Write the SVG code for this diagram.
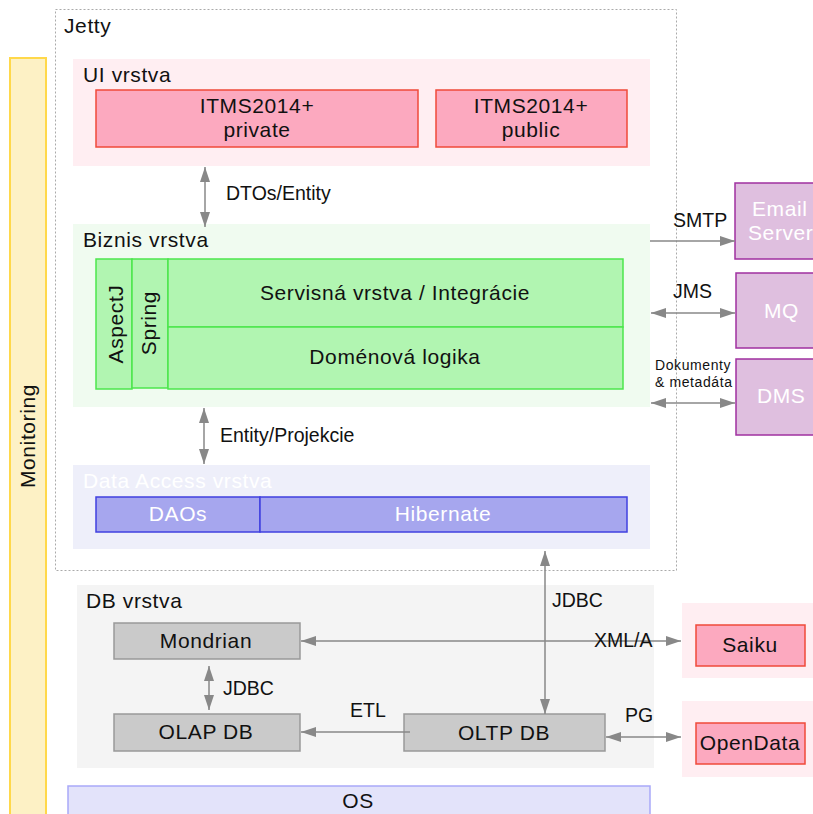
<svg xmlns="http://www.w3.org/2000/svg" width="813" height="814" viewBox="0 0 813 814">
<style>
text{font-family:"Liberation Sans",Arial,sans-serif;fill:#111}
.n{font-size:21px;letter-spacing:0.6px}
.l{font-size:19.5px}
.s{font-size:14px;letter-spacing:0.6px}
.m{text-anchor:middle}
.w{fill:#fff}
.pink{fill:#fca9bf;stroke:#f04a3a;stroke-width:1.5}
.green{fill:#b1f5b1;stroke:#4ce64c;stroke-width:1.5}
.blue{fill:#a6a6ee;stroke:#4040e0;stroke-width:1.5}
.purple{fill:#dfbfdf;stroke:#a030a0;stroke-width:1.5}
.gray{fill:#cacaca;stroke:#999;stroke-width:1.5}
.c{stroke:#888;stroke-width:1.5;fill:none}
</style>
<defs>
<marker id="ah" viewBox="0 0 15 10" refX="15" refY="5" markerWidth="15" markerHeight="10" markerUnits="userSpaceOnUse" orient="auto-start-reverse">
<path d="M0,0 L15,5 L0,10 z" fill="#888"/>
</marker>
</defs>
<rect width="813" height="814" fill="#fff"/>

<g id="monitoring">
<rect x="10" y="58" width="36" height="770" fill="#fdf1c5" stroke="#ffd84a" stroke-width="2"/>
<text class="n m" transform="translate(35,436) rotate(-90)">Monitoring</text>
</g>

<g id="jetty">
<rect x="55.5" y="9.5" width="621" height="561" fill="none" stroke="#aaa" stroke-dasharray="2,2"/>
<text class="n" x="64" y="33">Jetty</text>
</g>

<g id="ui-vrstva">
<rect x="73" y="59" width="577" height="107" fill="#ffeef2"/>
<text class="n" x="83" y="82">UI vrstva</text>
</g>
<g id="itms-private">
<rect class="pink" x="96" y="90" width="322" height="57"/>
<text class="n m" x="257" y="113">ITMS2014+</text>
<text class="n m" x="257" y="137">private</text>
</g>
<g id="itms-public">
<rect class="pink" x="436" y="90" width="191" height="57"/>
<text class="n m" x="531" y="113">ITMS2014+</text>
<text class="n m" x="531" y="137">public</text>
</g>

<g id="biznis-vrstva">
<rect x="73" y="224" width="577" height="183" fill="#f0fbf0"/>
<text class="n" x="83" y="247">Biznis vrstva</text>
</g>
<g id="aspectj">
<rect class="green" x="96" y="259" width="36" height="130"/>
<text class="n m" transform="translate(123,324) rotate(-90)">AspectJ</text>
</g>
<g id="spring">
<rect class="green" x="132" y="259" width="36" height="129"/>
<text class="n m" transform="translate(156,323) rotate(-90)">Spring</text>
</g>
<g id="servisna">
<rect class="green" x="168" y="259" width="455" height="68"/>
<text class="n m" x="395" y="300">Servisná vrstva / Integrácie</text>
</g>
<g id="domenova">
<rect class="green" x="168" y="327" width="455" height="62"/>
<text class="n m" x="395" y="364">Doménová logika</text>
</g>

<g id="data-access">
<rect x="73" y="465" width="577" height="84" fill="#eeeffa"/>
<text class="n w" x="83" y="488">Data Access vrstva</text>
</g>
<g id="daos">
<rect class="blue" x="96" y="497" width="164" height="35"/>
<text class="n m w" x="178" y="521">DAOs</text>
</g>
<g id="hibernate">
<rect class="blue" x="260" y="497" width="367" height="35"/>
<text class="n m w" x="443" y="521">Hibernate</text>
</g>

<g id="email-server">
<rect class="purple" x="735" y="183" width="100" height="76"/>
<text class="n w" x="752" y="216">Email</text>
<text class="n w" x="748" y="240">Server</text>
</g>
<g id="mq">
<rect class="purple" x="736" y="273" width="100" height="75"/>
<text class="n w" x="764" y="318">MQ</text>
</g>
<g id="dms">
<rect class="purple" x="736" y="359" width="100" height="76"/>
<text class="n w" x="757" y="403">DMS</text>
</g>

<g id="db-vrstva">
<rect x="77" y="585" width="577" height="183" fill="#f4f4f4"/>
<text class="n" x="86" y="608">DB vrstva</text>
</g>
<g id="mondrian">
<rect class="gray" x="114" y="623" width="186" height="36"/>
<text class="n m" x="206" y="648">Mondrian</text>
</g>
<g id="olap-db">
<rect class="gray" x="114" y="714" width="186" height="37"/>
<text class="n m" x="206" y="739">OLAP DB</text>
</g>
<g id="oltp-db">
<rect class="gray" x="404" y="714" width="201" height="37"/>
<text class="n m" x="504" y="740">OLTP DB</text>
</g>

<g id="saiku">
<rect x="682" y="603" width="140" height="75" fill="#ffeef2"/>
<rect class="pink" x="696" y="625" width="109" height="41"/>
<text class="n m" x="750" y="652">Saiku</text>
</g>
<g id="opendata">
<rect x="682" y="701" width="140" height="76" fill="#ffeef2"/>
<rect class="pink" x="696" y="723" width="109" height="41"/>
<text class="n m" x="750" y="750">OpenData</text>
</g>

<g id="os">
<rect x="68" y="786" width="582" height="40" fill="#e3e3fa" stroke="#a9a9f9" stroke-width="1.5"/>
<text class="n m" x="358" y="808">OS</text>
</g>

<g id="connectors">
<line class="c" x1="205" y1="167" x2="205" y2="227" marker-start="url(#ah)" marker-end="url(#ah)"/>
<text class="l" x="226" y="200">DTOs/Entity</text>
<line class="c" x1="204" y1="408" x2="204" y2="464" marker-start="url(#ah)" marker-end="url(#ah)"/>
<text class="l" x="220" y="442">Entity/Projekcie</text>
<line class="c" x1="650" y1="241" x2="735" y2="241" marker-end="url(#ah)"/>
<text class="l" x="673" y="227">SMTP</text>
<line class="c" x1="651" y1="313" x2="735" y2="313" marker-start="url(#ah)" marker-end="url(#ah)"/>
<text class="l" x="673" y="298">JMS</text>
<line class="c" x1="651" y1="403" x2="735" y2="403" marker-start="url(#ah)" marker-end="url(#ah)"/>
<text class="s" x="655" y="370">Dokumenty</text>
<text class="s" x="655" y="387">&amp; metadáta</text>
<line class="c" x1="545" y1="551" x2="545" y2="714" marker-start="url(#ah)" marker-end="url(#ah)"/>
<text class="l" x="552" y="607">JDBC</text>
<line class="c" x1="301" y1="641" x2="681" y2="641" marker-start="url(#ah)" marker-end="url(#ah)"/>
<text class="l" x="594" y="647">XML/A</text>
<line class="c" x1="209" y1="666" x2="209" y2="710" marker-start="url(#ah)" marker-end="url(#ah)"/>
<text class="l" x="223" y="695">JDBC</text>
<line class="c" x1="410" y1="732" x2="301" y2="732" marker-end="url(#ah)"/>
<text class="l" x="350" y="717">ETL</text>
<line class="c" x1="606" y1="737" x2="681" y2="737" marker-start="url(#ah)" marker-end="url(#ah)"/>
<text class="l" x="625" y="722">PG</text>
</g>
</svg>
